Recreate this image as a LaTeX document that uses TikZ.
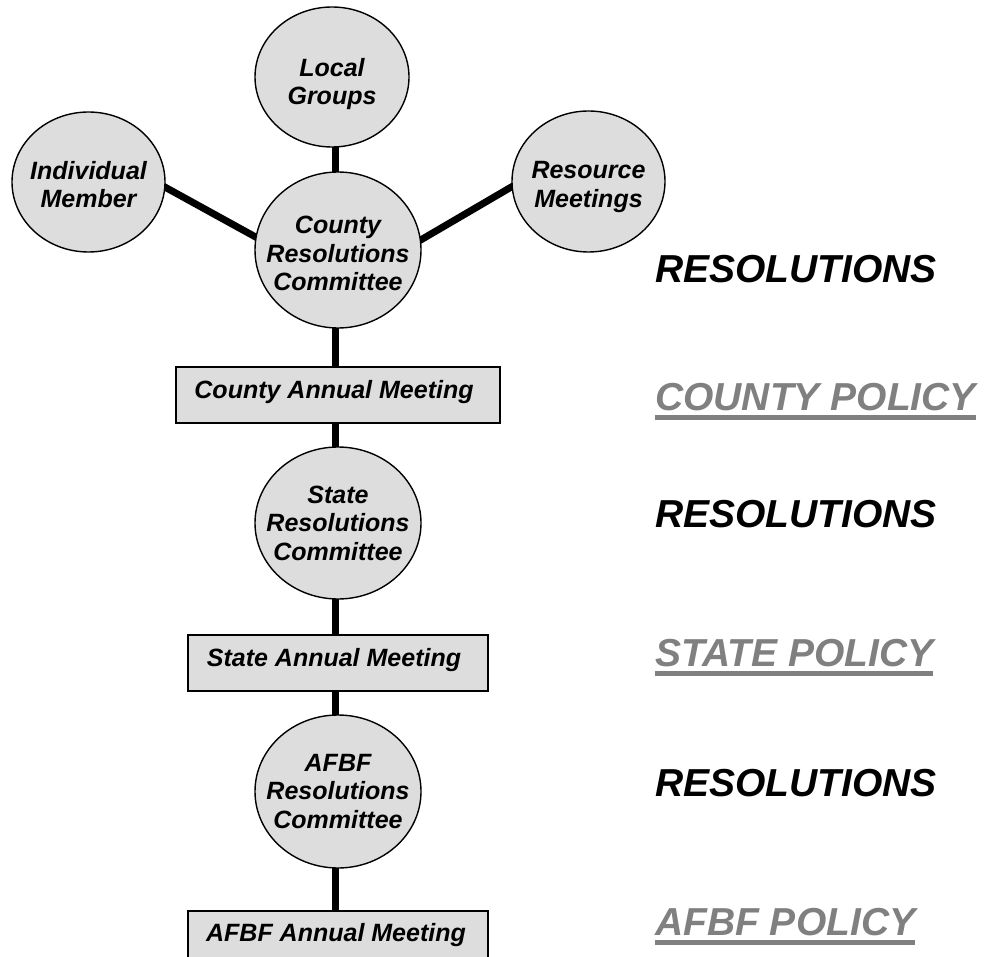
\documentclass[tikz,border=0pt]{standalone}
\usepackage{fontspec}
\setmainfont{Liberation Sans}
\usetikzlibrary{shapes.geometric,backgrounds}
\definecolor{shade}{HTML}{DDDDDD}
\definecolor{polgray}{HTML}{808080}
\begin{document}
\begin{tikzpicture}[x=1pt,y=-1pt,
  blob/.style={ellipse, draw=black, line width=1.4pt, fill=shade, inner sep=0pt},
  boxn/.style={rectangle, draw=black, line width=1.4pt, fill=shade, inner sep=0pt, minimum height=56pt},
  txt/.style={font=\fontsize{25}{28.5}\selectfont\bfseries\itshape, align=center, inner sep=0pt},
  side/.style={font=\fontsize{39}{42}\selectfont\bfseries\itshape, inner sep=0pt, anchor=base west},
  pol/.style={side, text=polgray},
  link/.style={line width=7pt},
  uline/.style={draw=polgray, line width=5pt}]
\useasboundingbox (0,0) rectangle (987,957);

% circles
\node[blob, minimum width=154pt, minimum height=140pt,
      label={[txt,yshift=-7pt]center:Local\\Groups}] (lg) at (332,77) {};
\node[blob, minimum width=153pt, minimum height=140pt,
      label={[txt,yshift=-2.5pt]center:Individual\\Member}] (im) at (88.5,182) {};
\node[blob, minimum width=153pt, minimum height=141pt,
      label={[txt,yshift=-5.5pt]center:Resource\\Meetings}] (rm) at (588.5,181.5) {};
\node[blob, minimum width=166pt, minimum height=156pt,
      label={[txt,yshift=-3.5pt]center:County\\Resolutions\\Committee}] (crc) at (338,250) {};
\node[blob, minimum width=166pt, minimum height=152pt,
      label={[txt]center:State\\Resolutions\\Committee}] (src) at (338,523) {};
\node[blob, minimum width=166pt, minimum height=153pt,
      label={[txt]center:AFBF\\Resolutions\\Committee}] (arc) at (338,791.5) {};

% boxes
\node[boxn, minimum width=324pt,
      label={[txt,xshift=-4pt,yshift=2.5pt]center:County Annual Meeting}] (cam) at (338,395) {};
\node[boxn, minimum width=300pt,
      label={[txt,xshift=-4pt,yshift=2.5pt]center:State Annual Meeting}] (sam) at (338,663) {};
\node[boxn, minimum width=300pt,
      label={[txt,xshift=-2pt,yshift=3.5pt]center:AFBF Annual Meeting}] (aam) at (338,939) {};

% right-hand labels
\node[side] (r1) at (655,283) {RESOLUTIONS};
\node[pol]  (cp) at (655,410) {COUNTY POLICY};
\node[side] (r2) at (655,527) {RESOLUTIONS};
\node[pol]  (sp) at (655,666) {STATE POLICY};
\node[side] (r3) at (655,796) {RESOLUTIONS};
\node[pol]  (ap) at (655,935) {AFBF POLICY};
\draw[uline] ([yshift=-7.5pt]cp.base west) -- ([yshift=-7.5pt]cp.base east);
\draw[uline] ([yshift=-7.5pt]sp.base west) -- ([yshift=-7.5pt]sp.base east);
\draw[uline] ([yshift=-7.5pt]ap.base west) -- ([yshift=-7.5pt]ap.base east);

% connectors behind the shapes
\begin{pgfonlayer}{background}
\fill[white] (0,0) rectangle (987,957);
\draw[link] ([xshift=3pt]lg.center) -- ([xshift=-3pt]crc.center);
\draw[link] ([xshift=-2.5pt]crc.center) -- ([xshift=-2.5pt]cam.center)
            -- ([xshift=-2.5pt]src.center) -- ([xshift=-2.5pt]sam.center)
            -- ([xshift=-2.5pt]arc.center) -- ([xshift=-2.5pt]aam.center);
\draw[link, shorten <=-6pt, shorten >=-6pt] (im.-4.5) -- (crc.171.5);
\draw[link, shorten <=-6pt, shorten >=-6pt] (crc.7) -- (rm.184.5);
\end{pgfonlayer}
\end{tikzpicture}
\end{document}
